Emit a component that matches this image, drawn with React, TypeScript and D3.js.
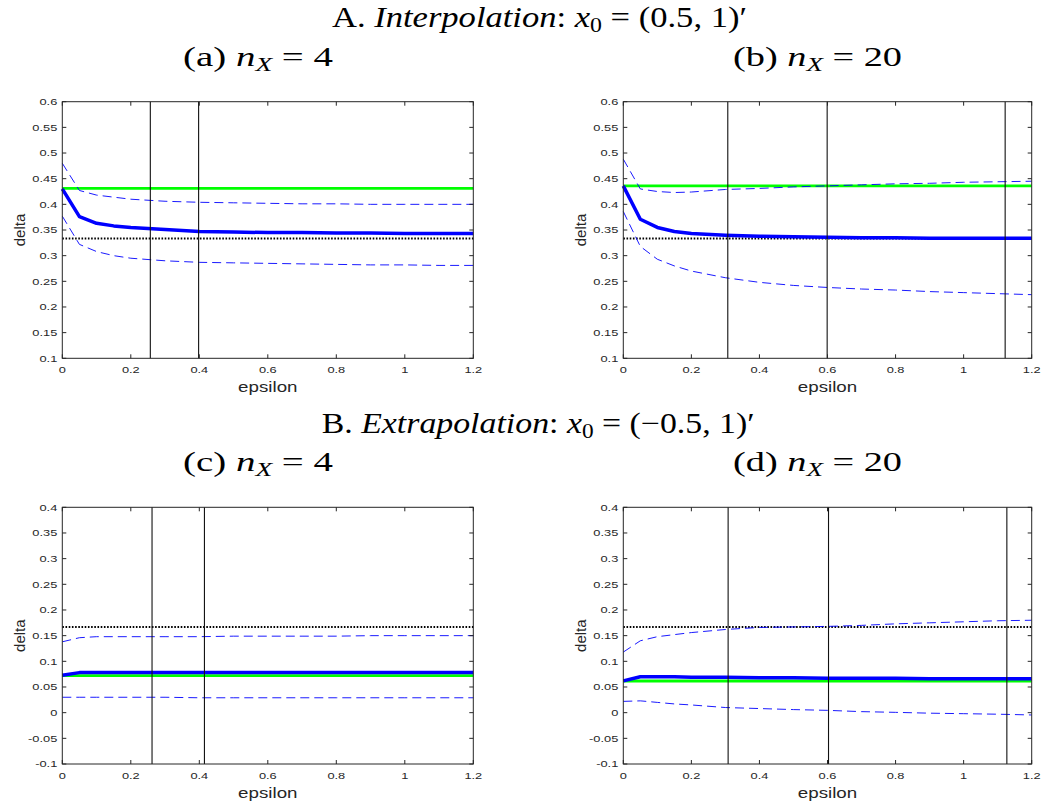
import React from "react";
import * as d3 from "d3";

// ---------- data ----------
const eps = [0, 0.05, 0.1, 0.15, 0.2, 0.3, 0.4, 0.5, 0.6, 0.7, 0.8, 0.9, 1.0, 1.1, 1.2];

// Panel (a)
const meanA = [0.430, 0.376, 0.363, 0.358, 0.355, 0.351, 0.347, 0.346, 0.345, 0.345, 0.344, 0.344, 0.343, 0.343, 0.343];
const upperA = [0.480, 0.427, 0.418, 0.414, 0.410, 0.406, 0.404, 0.403, 0.402, 0.401, 0.401, 0.400, 0.400, 0.400, 0.400];
const lowerA = [0.377, 0.322, 0.308, 0.300, 0.295, 0.290, 0.287, 0.286, 0.285, 0.284, 0.283, 0.282, 0.282, 0.281, 0.281];
const greenA = 0.431;
const refA = 0.3333;
const vlinesA = [0.257, 0.398];

// Panel (b)
const meanB = [0.436, 0.371, 0.355, 0.347, 0.343, 0.340, 0.338, 0.337, 0.336, 0.335, 0.335, 0.334, 0.334, 0.334, 0.334];
const upperB = [0.488, 0.430, 0.425, 0.423, 0.424, 0.429, 0.431, 0.434, 0.436, 0.438, 0.440, 0.441, 0.443, 0.444, 0.445];
const lowerB = [0.386, 0.318, 0.293, 0.280, 0.270, 0.257, 0.248, 0.242, 0.238, 0.235, 0.233, 0.230, 0.228, 0.226, 0.224];
const greenB = 0.436;
const refB = 0.3333;
const vlinesB = [0.307, 0.599, 1.122];

// Panel (c)
const meanC = [0.073, 0.078, 0.078, 0.078, 0.078, 0.078, 0.078, 0.078, 0.078, 0.078, 0.078, 0.078, 0.078, 0.078, 0.078];
const upperC = [0.138, 0.146, 0.148, 0.148, 0.148, 0.148, 0.148, 0.149, 0.149, 0.149, 0.149, 0.150, 0.150, 0.150, 0.150];
const lowerC = [0.030, 0.030, 0.030, 0.030, 0.030, 0.030, 0.029, 0.029, 0.029, 0.029, 0.029, 0.029, 0.029, 0.029, 0.029];
const greenC = 0.072;
const refC = 0.1667;
const vlinesC = [0.262, 0.415];

// Panel (d)
const meanD = [0.062, 0.070, 0.070, 0.070, 0.069, 0.069, 0.068, 0.068, 0.067, 0.067, 0.067, 0.066, 0.066, 0.066, 0.066];
const upperD = [0.118, 0.140, 0.148, 0.152, 0.156, 0.162, 0.166, 0.167, 0.168, 0.170, 0.173, 0.175, 0.177, 0.179, 0.180];
const lowerD = [0.022, 0.023, 0.020, 0.017, 0.015, 0.010, 0.008, 0.006, 0.0045, 0.002, 0.0006, -0.001, -0.002, -0.003, -0.0045];
const greenD = 0.0617;
const refD = 0.1667;
const vlinesD = [0.308, 0.603, 1.127];

const xTicks = [0, 0.2, 0.4, 0.6, 0.8, 1, 1.2];
const yTicksTop = [0.1, 0.15, 0.2, 0.25, 0.3, 0.35, 0.4, 0.45, 0.5, 0.55, 0.6];
const yTicksBottom = [-0.1, -0.05, 0, 0.05, 0.1, 0.15, 0.2, 0.25, 0.3, 0.35, 0.4];

// ---------- components ----------
const AX = "#262626";
const SANS = "'Liberation Sans', Arial, sans-serif";
const SERIF = "'Liberation Serif', 'Times New Roman', serif";

type PanelProps = {
  left: number; right: number; top: number; bottom: number;
  yDomain: [number, number]; yTicks: number[];
  mean: number[]; upper: number[]; lower: number[];
  green: number; ref: number; vlines: number[];
};

function fmt(v: number) {
  const s = d3.format("~g")(+v.toFixed(3));
  return s.replace("−", "-");
}

function Panel(p: PanelProps) {
  const x = d3.scaleLinear().domain([0, 1.2]).range([p.left, p.right]);
  const y = d3.scaleLinear().domain(p.yDomain).range([p.bottom, p.top]);
  const line = d3.line<number>().x((_, i) => x(eps[i])).y((v) => y(v));
  const tl = 4;
  const sx = 1.35;
  return (
    <g>
      {/* dotted reference */}
      <line x1={x(0)} x2={x(1.2)} y1={y(p.ref)} y2={y(p.ref)} stroke="#000" strokeWidth={2} strokeDasharray="1.6,1.6" />
      {/* green */}
      <line x1={x(0)} x2={x(1.2)} y1={y(p.green)} y2={y(p.green)} stroke="#00ff00" strokeWidth={2.8} />
      {/* dashed bands */}
      <path d={line(p.upper) || ""} fill="none" stroke="#0000ff" strokeWidth={0.9} strokeDasharray="9,5" />
      <path d={line(p.lower) || ""} fill="none" stroke="#0000ff" strokeWidth={0.9} strokeDasharray="9,5" />
      {/* mean */}
      <path d={line(p.mean) || ""} fill="none" stroke="#0000ff" strokeWidth={3.5} strokeLinejoin="round" />
      {/* vertical lines */}
      {p.vlines.map((v, i) => (
        <line key={i} x1={x(v)} x2={x(v)} y1={p.top} y2={p.bottom} stroke="#111" strokeWidth={1.1} />
      ))}
      {/* box */}
      <rect x={p.left} y={p.top} width={p.right - p.left} height={p.bottom - p.top} fill="none" stroke={AX} strokeWidth={1} />
      {/* ticks */}
      {xTicks.map((t) => (
        <g key={"x" + t}>
          <line x1={x(t)} x2={x(t)} y1={p.bottom} y2={p.bottom - tl} stroke={AX} />
          <line x1={x(t)} x2={x(t)} y1={p.top} y2={p.top + tl} stroke={AX} />
          <text transform={`translate(${x(t)},${p.bottom + 14.5}) scale(${sx},1)`} textAnchor="middle"
            fontFamily={SANS} fontSize={9.5} fill={AX}>{fmt(t)}</text>
        </g>
      ))}
      {p.yTicks.map((t) => (
        <g key={"y" + t}>
          <line x1={p.left} x2={p.left + tl} y1={y(t)} y2={y(t)} stroke={AX} />
          <line x1={p.right} x2={p.right - tl} y1={y(t)} y2={y(t)} stroke={AX} />
          <text transform={`translate(${p.left - 5},${y(t) + 3.4}) scale(${sx},1)`} textAnchor="end"
            fontFamily={SANS} fontSize={9.5} fill={AX}>{fmt(t)}</text>
        </g>
      ))}
      <text transform={`translate(${(p.left + p.right) / 2},${p.bottom + 33.5}) scale(1.25,1)`} textAnchor="middle"
        fontFamily={SANS} fontSize={15} fill={AX}>epsilon</text>
      <text transform={`translate(${p.left - 37.5},${(p.top + p.bottom) / 2}) rotate(-90)`} textAnchor="middle"
        fontFamily={SANS} fontSize={15} fill={AX}>delta</text>
    </g>
  );
}

function SubTitle({ x, y, letter, n, len }: { x: number; y: number; letter: string; n: string; len: number }) {
  return (
    <text x={x} y={y} fontFamily={SERIF} fontSize={27} fill="#000" textLength={len} lengthAdjust="spacingAndGlyphs">
      <tspan>({letter}) </tspan>
      <tspan fontStyle="italic">n</tspan>
      <tspan fontStyle="italic" fontSize={19} dy={5}>X</tspan>
      <tspan dy={-5}> = {n}</tspan>
    </text>
  );
}

export default function App() {
  const L1 = 62.3, R1 = 473.3, L2 = 623.3, R2 = 1031.7;
  const T1 = 101.7, B1 = 358.3, T2 = 507.3, B2 = 764;
  return (
    <svg width={1046} height={805} style={{ position: "absolute", left: 0, top: 0, background: "#fff" }}>
      <rect x={0} y={0} width={1046} height={805} fill="#fff" />
      {/* Section A title */}
      <text x={332} y={27.3} fontFamily={SERIF} fontSize={29} fill="#000" textLength={415} lengthAdjust="spacingAndGlyphs">
        <tspan>A. </tspan>
        <tspan fontStyle="italic">Interpolation</tspan>
        <tspan>:  </tspan>
        <tspan fontStyle="italic">x</tspan>
        <tspan fontSize={20} dy={5}>0</tspan>
        <tspan dy={-5}> = (0.5, 1)′</tspan>
      </text>
      <SubTitle x={183} y={65.7} letter="a" n="4" len={150} />
      <SubTitle x={733} y={65.7} letter="b" n="20" len={169} />
      {/* Section B title */}
      <text x={321.7} y={432.5} fontFamily={SERIF} fontSize={29} fill="#000" textLength={433} lengthAdjust="spacingAndGlyphs">
        <tspan>B. </tspan>
        <tspan fontStyle="italic">Extrapolation</tspan>
        <tspan>:  </tspan>
        <tspan fontStyle="italic">x</tspan>
        <tspan fontSize={20} dy={5}>0</tspan>
        <tspan dy={-5}> = (−0.5, 1)′</tspan>
      </text>
      <SubTitle x={183} y={471.2} letter="c" n="4" len={150} />
      <SubTitle x={733} y={471.2} letter="d" n="20" len={169} />

      <Panel left={L1} right={R1} top={T1} bottom={B1} yDomain={[0.1, 0.6]} yTicks={yTicksTop}
        mean={meanA} upper={upperA} lower={lowerA} green={greenA} ref={refA} vlines={vlinesA} />
      <Panel left={L2} right={R2} top={T1} bottom={B1} yDomain={[0.1, 0.6]} yTicks={yTicksTop}
        mean={meanB} upper={upperB} lower={lowerB} green={greenB} ref={refB} vlines={vlinesB} />
      <Panel left={L1} right={R1} top={T2} bottom={B2} yDomain={[-0.1, 0.4]} yTicks={yTicksBottom}
        mean={meanC} upper={upperC} lower={lowerC} green={greenC} ref={refC} vlines={vlinesC} />
      <Panel left={L2} right={R2} top={T2} bottom={B2} yDomain={[-0.1, 0.4]} yTicks={yTicksBottom}
        mean={meanD} upper={upperD} lower={lowerD} green={greenD} ref={refD} vlines={vlinesD} />
    </svg>
  );
}
